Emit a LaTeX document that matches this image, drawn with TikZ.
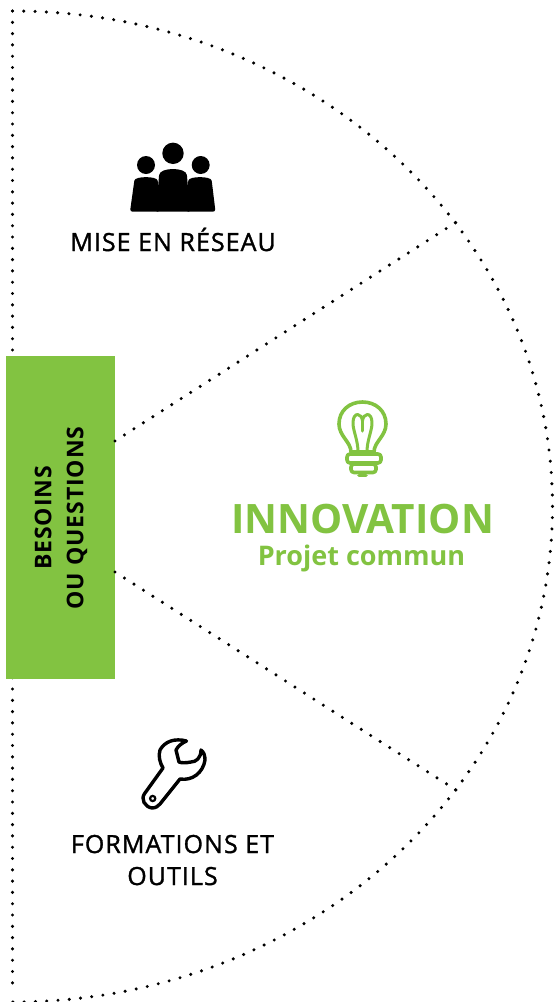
\documentclass[tikz,border=0pt]{standalone}
\usepackage{fontspec}
\setmainfont{Open Sans}
\newfontfamily\medfont[FakeBold=1.3,LetterSpace=4.2]{Open Sans}
\newfontfamily\boxfont[LetterSpace=4]{Open Sans}
\definecolor{vert}{HTML}{82C341}
\tikzset{
  dotline/.style={line width=3.4pt,line cap=round,dash pattern=on 0pt off 11.3pt,draw=black},
  dotspoke/.style={dotline,dash pattern=on 0pt off 11.24pt},
  label/.style={font=\medfont\fontsize{25}{32}\selectfont,align=center,text=black,inner sep=0pt,anchor=base},
  green line/.style={draw=vert,line width=3.6pt,line join=round,line cap=round},
  box/.style={fill=vert,draw=none,minimum width=109pt,minimum height=323pt,inner sep=0pt,anchor=north west}
}
\begin{document}
\begin{tikzpicture}[x=1pt,y=-1pt]
\useasboundingbox (0,0) rectangle (557,1002);
\fill[white] (0,0) rectangle (557,1002);
% outline
\coordinate (tl) at (12.5,11);
\coordinate (bl) at (12.5,993);
\coordinate (ur) at (456.5,222);
\coordinate (lr) at (456,790);
\draw[dotline] (tl) -- (bl);
\draw[dotline] (tl) arc[start angle=-90,end angle=90,x radius=540,y radius=495.5];
\node[box] (b) at (6,356) {};
\coordinate (bu) at (115,441);
\coordinate (bd) at (115,572);
\draw[dotspoke] (bu) -- (ur);
\draw[dotspoke] (bd) -- (lr);
\node[rotate=90,align=center,inner sep=0pt,font=\boxfont\fontsize{23}{32}\selectfont\bfseries] (bt) at (61,518) {BESOINS\\OU QUESTIONS};
% people icon
\fill (173,153.3) circle (10.7);
\fill (146,165) circle (9);
\fill (200.7,165) circle (9);
\fill[rounded corners=2.5pt] (130,211.7) -- (134,183) .. controls (135,176) and (157,176) .. (158,183) -- (160,211.7) -- cycle;
\fill[rounded corners=2.5pt] (215.5,211.7) -- (212,183) .. controls (211,176) and (189,176) .. (188,183) -- (186,211.7) -- cycle;
\fill[rounded corners=1pt] (156,211.7) -- (159,176) .. controls (160,167) and (186,167) .. (187,176) -- (190,211.7) -- cycle;
\node[label] (m) at (173,251) {MISE EN RÉSEAU};
% bulb
\draw[green line] (351,452) .. controls (351,442) and (339,436) .. (339,424) .. controls (339,411) and (349,402) .. (362.5,402) .. controls (376,402) and (386,411) .. (386,424) .. controls (386,436) and (374,442) .. (374,452) -- cycle;
\draw[green line,line width=3pt] (358,452) .. controls (358,440) and (353,431) .. (353,423) .. controls (353,411) and (362,413) .. (362.5,421) .. controls (363,413) and (372,411) .. (372,423) .. controls (372,431) and (367,440) .. (367,452);
\draw[green line,line width=3pt] (362.5,421) -- (362.5,431);
\draw[green line,rounded corners=3pt] (347,454) rectangle (381,463);
\draw[green line,rounded corners=3pt] (351,464) rectangle (376,472.5);
\draw[green line] (359,475.5) -- (366,475.5);
\node[font=\fontsize{40.5}{46}\selectfont\bfseries,text=vert,inner sep=0pt] (i) at (362.5,519) {INNOVATION};
\node[font=\fontsize{27}{30}\selectfont\bfseries,text=vert,inner sep=0pt] (p) at (361.5,558) {Projet commun};
% wrench
\draw[line width=3.4pt,line join=round,draw=black] (186.5,741) .. controls (175,738) and (165,741) .. (160,750) .. controls (158,756) and (160,763) .. (163,768) -- (145,793) .. controls (140,799) and (145,807) .. (152,808) .. controls (156,808) and (158,806) .. (160,804) -- (180,779) .. controls (192,781) and (203,773) .. (205,760) .. controls (205,756) and (204,752) .. (201,750) .. controls (201,758) and (196,762) .. (191,762) .. controls (186,763) and (181,763) .. (179,762) -- (176,750) .. controls (178,746) and (182,743) .. (186.5,741) -- cycle;
\draw[line width=2.2pt] (152.7,798.5) circle (2.6);
\node[label] (f) at (172.5,885) {FORMATIONS ET\\OUTILS};
\end{tikzpicture}
\end{document}
